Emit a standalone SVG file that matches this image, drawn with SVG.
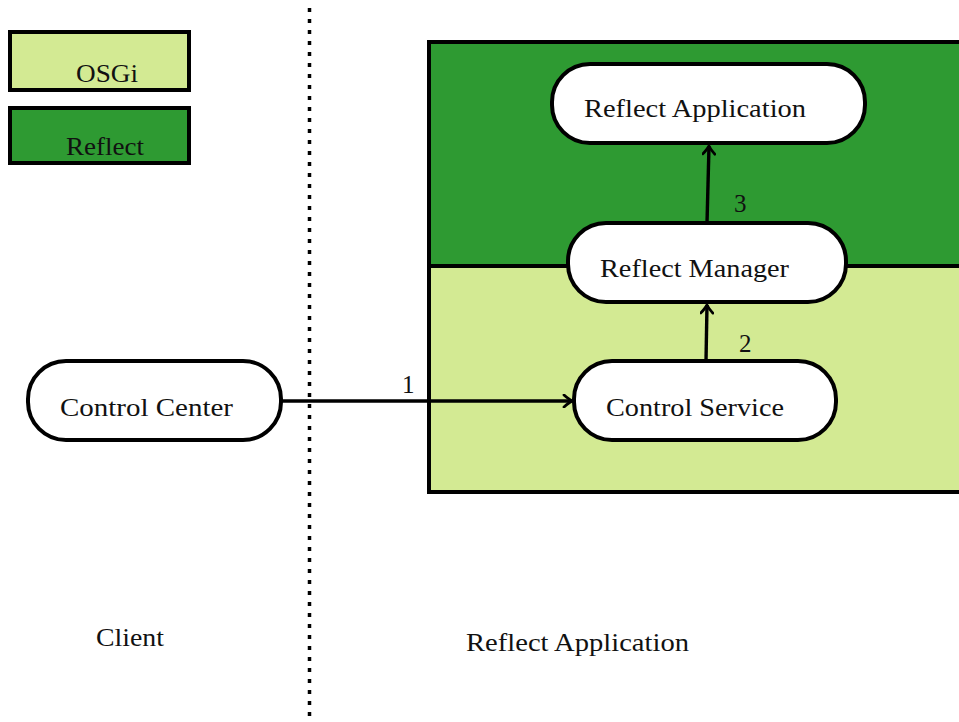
<svg xmlns="http://www.w3.org/2000/svg" width="959" height="722" viewBox="0 0 959 722">
  <style>
    .lbl { font-family: "Liberation Serif", "DejaVu Serif", serif; font-size: 25px; fill: #111; }
    .num { font-family: "Liberation Serif", "DejaVu Serif", serif; font-size: 25px; fill: #111; }
    .osgi { fill: #d3ea93; stroke: #000; stroke-width: 4; }
    .reflect { fill: #2e9a32; stroke: #000; stroke-width: 4; }
    .pill { fill: #fff; stroke: #000; stroke-width: 4; }
    .edge { fill: none; stroke: #000; stroke-width: 3.4; }
  </style>
  <defs>
    <marker id="arrow" viewBox="-10 -7 12 14" markerWidth="12" markerHeight="14" refX="0" refY="0" orient="auto" markerUnits="userSpaceOnUse">
      <path d="M -8 -6 Q -3 -1.5 0 0 Q -3 1.5 -8 6" fill="none" stroke="#000" stroke-width="2.8" stroke-linecap="round"/>
    </marker>
  </defs>
  <rect width="959" height="722" fill="#fff"/>

  <!-- legend -->
  <g id="legend-osgi">
    <rect class="osgi" x="10" y="32" width="179" height="58"/>
    <text class="lbl" x="76" y="82" textLength="62" lengthAdjust="spacingAndGlyphs">OSGi</text>
  </g>
  <g id="legend-reflect">
    <rect class="reflect" x="10" y="108" width="179" height="55"/>
    <text class="lbl" x="66" y="155" textLength="78" lengthAdjust="spacingAndGlyphs">Reflect</text>
  </g>

  <!-- separator between client and application side -->
  <line x1="309.5" y1="8" x2="309.5" y2="726" stroke="#000" stroke-width="3.5" stroke-dasharray="4 7"/>

  <!-- application container: reflect layer above osgi layer -->
  <g id="container">
    <rect class="reflect" x="429" y="42" width="540" height="224"/>
    <rect class="osgi" x="429" y="266" width="540" height="226"/>
  </g>

  <g id="connectors">
    <line class="edge" x1="281" y1="401" x2="572" y2="401" marker-end="url(#arrow)"/>
    <line class="edge" x1="706" y1="361" x2="707" y2="305" marker-end="url(#arrow)"/>
    <line class="edge" x1="707" y1="223" x2="709" y2="146" marker-end="url(#arrow)"/>
    <text class="num" x="402" y="393">1</text>
    <text class="num" x="739" y="352">2</text>
    <text class="num" x="734" y="212">3</text>
  </g>

  <g id="reflect-application">
    <rect class="pill" x="552" y="64" width="313" height="79" rx="38" ry="38"/>
    <text class="lbl" x="584" y="117" textLength="222" lengthAdjust="spacingAndGlyphs">Reflect Application</text>
  </g>
  <g id="reflect-manager">
    <rect class="pill" x="568" y="223" width="278" height="79" rx="38" ry="38"/>
    <text class="lbl" x="600" y="277" textLength="189" lengthAdjust="spacingAndGlyphs">Reflect Manager</text>
  </g>
  <g id="control-service">
    <rect class="pill" x="574" y="361" width="262" height="79" rx="38" ry="38"/>
    <text class="lbl" x="606" y="416" textLength="178" lengthAdjust="spacingAndGlyphs">Control Service</text>
  </g>
  <g id="control-center">
    <rect class="pill" x="28" y="361" width="253" height="79" rx="38" ry="38"/>
    <text class="lbl" x="60" y="416" textLength="173" lengthAdjust="spacingAndGlyphs">Control Center</text>
  </g>

  <!-- zone captions -->
  <text class="lbl" x="96" y="646" textLength="68" lengthAdjust="spacingAndGlyphs">Client</text>
  <text class="lbl" x="466" y="651" textLength="223" lengthAdjust="spacingAndGlyphs">Reflect Application</text>
</svg>
